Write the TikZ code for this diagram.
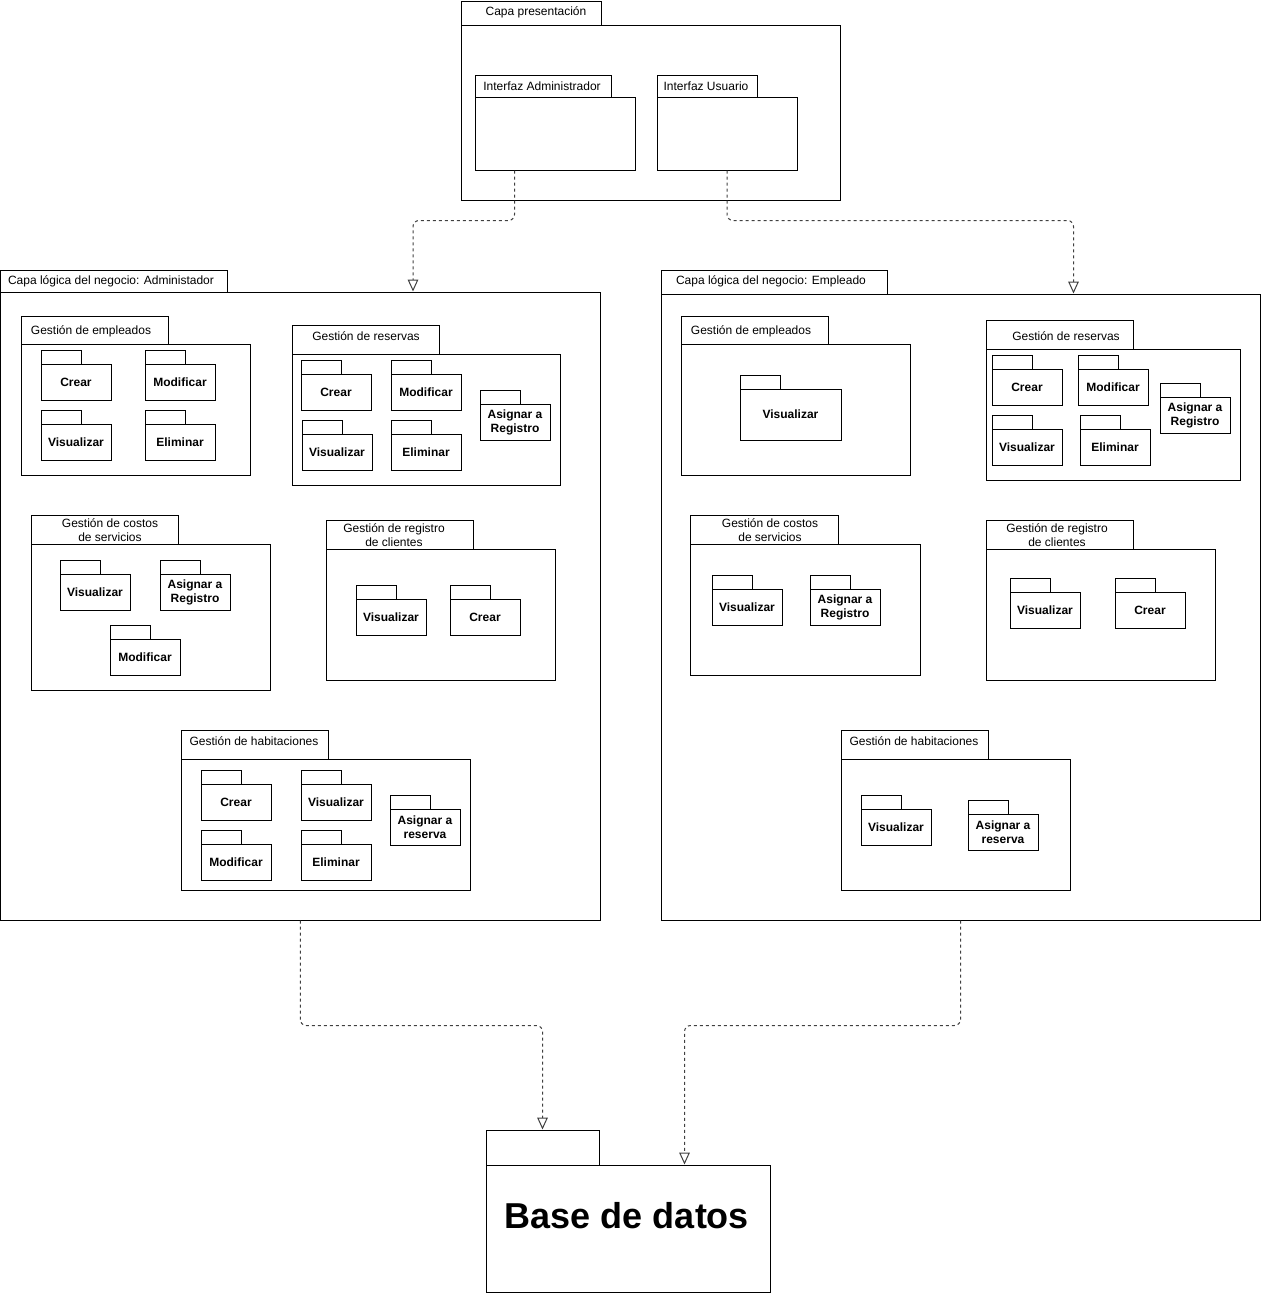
\documentclass[tikz,border=0pt]{standalone}
\usepackage{fontspec}
\setmainfont{Liberation Sans}
\usetikzlibrary{fit,calc,arrows.meta}
\tikzset{
  box/.style={draw=black, line width=0.75pt, inner sep=0pt},
  ttl/.style={font=\fontsize{9}{10.5}\selectfont, align=center, inner sep=0pt},
  sub/.style={font=\fontsize{9}{10.5}\selectfont\bfseries, align=center, inner sep=0pt},
  big/.style={font=\fontsize{27}{30}\selectfont\bfseries, inner sep=0pt},
  dep/.style={draw=black!75, line width=0.75pt, dash pattern=on 2.25pt off 2.25pt,
    rounded corners=4.5pt, -{Triangle[open, length=9pt, width=8pt, fill=white]}}
}
% #1 name, #2 x1, #3 tab top, #4 tab right, #5 body top, #6 body right, #7 body bottom
\newcommand{\mypkg}[7]{%
  \node[box, fit={(#2,#3) (#4,#5)}] (#1t) {};
  \node[box, fit={(#2,#5) (#6,#7)}] (#1) {};
}
% small package: #1 name, #2 x, #3 tab top, #4 text
\newcommand{\mysub}[4]{%
  \mypkg{#1}{#2}{#3}{#2+40}{#3+14}{#2+70}{#3+50}
  \node[sub] (#1l) at (#1.center) {#4};
}
\begin{document}
\begin{tikzpicture}[x=0.75pt,y=-0.75pt]
\useasboundingbox (0,0) rectangle (1261,1293);

% Capa presentacion
\mypkg{cp}{461}{1}{601}{25}{840}{200}
\node[ttl] (cpl) at (536,12) {Capa presentación};
\mypkg{iadm}{475}{75}{611}{97}{635}{170}
\node[ttl] (iadml) at (542,86) {Interfaz Administrador};
\mypkg{iusr}{657}{75}{757}{97}{797}{170}
\node[ttl] (iusrl) at (706,86) {Interfaz Usuario};

% Capa logica administrador
\mypkg{cla}{0.5}{270}{227}{292}{600}{920}
\node[ttl] (clal) at (111,281) {Capa lógica del negocio: Administador};

\mypkg{ae}{21}{316}{168}{344}{250}{475}
\node[ttl] (ael) at (91,331) {Gestión de empleados};
\mysub{aecr}{41}{350}{Crear}
\mysub{aemo}{145}{350}{Modificar}
\mysub{aevi}{41}{410}{Visualizar}
\mysub{aeel}{145}{410}{Eliminar}

\mypkg{ar}{292}{325}{439}{354}{560}{485}
\node[ttl] (arl) at (366,336) {Gestión de reservas};
\mysub{arcr}{301}{360}{Crear}
\mysub{armo}{391}{360}{Modificar}
\mysub{arvi}{302}{420}{Visualizar}
\mysub{arel}{391}{420}{Eliminar}
\mysub{aras}{480}{390}{Asignar a\\Registro}

\mypkg{ac}{31}{515}{178}{544}{270}{690}
\node[ttl] (acl) at (110,530) {Gestión de costos\\de servicios};
\mysub{acvi}{60}{560}{Visualizar}
\mysub{acas}{160}{560}{Asignar a\\Registro}
\mysub{acmo}{110}{625}{Modificar}

\mypkg{ag}{326}{520}{473}{549}{555}{680}
\node[ttl] (agl) at (394,535) {Gestión de registro\\de clientes};
\mysub{agvi}{356}{585}{Visualizar}
\mysub{agcr}{450}{585}{Crear}

\mypkg{ah}{181}{730}{328}{759}{470}{890}
\node[ttl] (ahl) at (254,741) {Gestión de habitaciones};
\mysub{ahcr}{201}{770}{Crear}
\mysub{ahvi}{301}{770}{Visualizar}
\mysub{ahmo}{201}{830}{Modificar}
\mysub{ahel}{301}{830}{Eliminar}
\mysub{ahas}{390}{795}{Asignar a\\reserva}

% Capa logica empleado
\mypkg{cle}{661}{270}{887}{294}{1260}{920}
\node[ttl] (clel) at (771,281) {Capa lógica del negocio: Empleado};

\mypkg{ee}{681}{316}{828}{344}{910}{475}
\node[ttl] (eel) at (751,331) {Gestión de empleados};
\mypkg{eevi}{740}{375}{780}{389}{841}{440}
\node[sub] (eevil) at (eevi.center) {Visualizar};

\mypkg{er}{986}{320}{1133}{349}{1240}{480}
\node[ttl] (erl) at (1066,336) {Gestión de reservas};
\mysub{ercr}{992}{355}{Crear}
\mysub{ermo}{1078}{355}{Modificar}
\mysub{ervi}{992}{415}{Visualizar}
\mysub{erel}{1080}{415}{Eliminar}
\mysub{eras}{1160}{383}{Asignar a\\Registro}

\mypkg{ec}{690}{515}{838}{544}{920}{675}
\node[ttl] (ecl) at (770,530) {Gestión de costos\\de servicios};
\mysub{ecvi}{712}{575}{Visualizar}
\mysub{ecas}{810}{575}{Asignar a\\Registro}

\mypkg{eg}{986}{520}{1133}{549}{1215}{680}
\node[ttl] (egl) at (1057,535) {Gestión de registro\\de clientes};
\mysub{egvi}{1010}{578}{Visualizar}
\mysub{egcr}{1115}{578}{Crear}

\mypkg{eh}{841}{730}{988}{759}{1070}{890}
\node[ttl] (ehl) at (914,741) {Gestión de habitaciones};
\mysub{ehvi}{861}{795}{Visualizar}
\mysub{ehas}{968}{800}{Asignar a\\reserva}

% Base de datos
\mypkg{bd}{486}{1130}{599}{1165}{770}{1292}
\node[big] (bdl) at (627,1216) {Base de datos};

% Dependencias
\draw[dep] ($(iadm.south west)+(40,0)$) -- ++(0,50) -| ($(cla.north west)+(413,0)$);
\draw[dep] (iusr.south) -- ++(0,50) -| ($(cle.north west)+(413,0)$);
\draw[dep] (cla.south) -- ++(0,105) -| (bdt.north);
\draw[dep] (cle.south) -- ++(0,105) -| ($(bd.north west)+(199,0)$);
\end{tikzpicture}
\end{document}
